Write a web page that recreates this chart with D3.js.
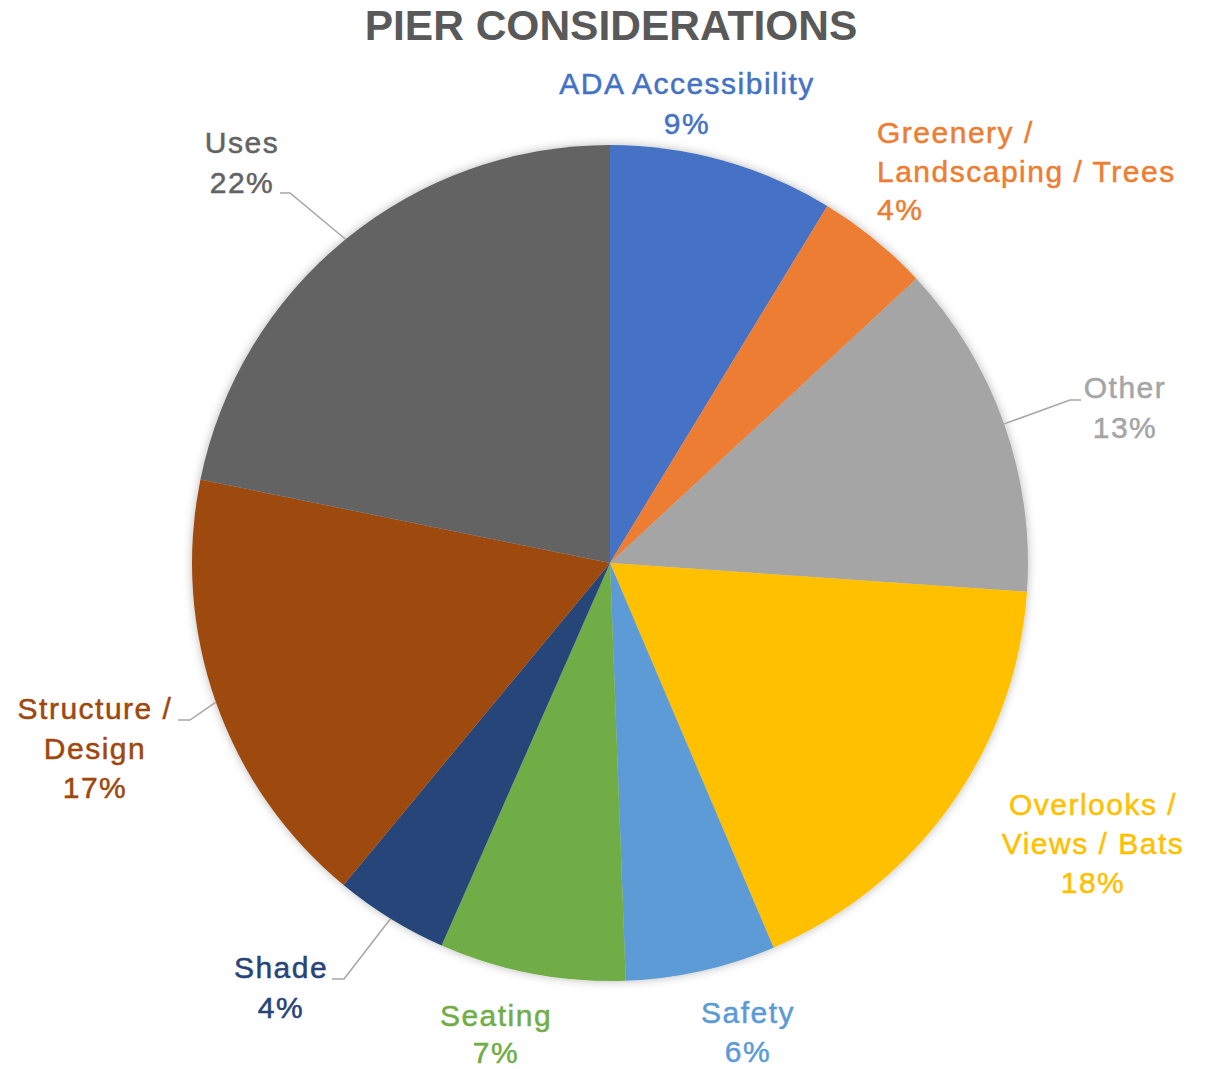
<!DOCTYPE html>
<html><head><meta charset="utf-8">
<script src="https://cdn.jsdelivr.net/npm/d3@7/dist/d3.min.js"></script>
<style>html,body{margin:0;padding:0;background:#fff;}svg{display:block;font-family:"Liberation Sans",Arial,sans-serif;}</style>
</head><body>
<svg id="chart" width="1209" height="1069"></svg>
<script>
const categories = ["ADA Accessibility","Greenery / Landscaping / Trees","Other","Overlooks / Views / Bats","Safety","Seating","Shade","Structure / Design","Uses"];
const values = [8.7, 4.4, 13.0, 17.5, 5.8, 7.2, 4.4, 17.2, 21.8];
const percentLabels = ["9%","4%","13%","18%","6%","7%","4%","17%","22%"];
const colors = ["#4472C4","#ED7D31","#A5A5A5","#FFC000","#5B9BD5","#70AD47","#264478","#9E480E","#636363"];
const title = "PIER CONSIDERATIONS";

// label layout (text lines, anchor, x, first baseline, line spacing, leader line)
const labelLayout = [
  {lines:["ADA Accessibility"], anchor:"middle", x:687, y:94, lh:39.5},
  {lines:["Greenery /","Landscaping / Trees"], anchor:"start", x:877, y:143, lh:38.5},
  {lines:["Other"], anchor:"middle", x:1125, y:398, lh:40, leader:[[1070,400],[1081,400]]},
  {lines:["Overlooks /","Views / Bats"], anchor:"middle", x:1093, y:815, lh:39},
  {lines:["Safety"], anchor:"middle", x:748, y:1023, lh:39},
  {lines:["Seating"], anchor:"middle", x:496, y:1026, lh:37},
  {lines:["Shade"], anchor:"middle", x:281, y:978, lh:40, leader:[[344,979],[332,979]]},
  {lines:["Structure /","Design"], anchor:"middle", x:95, y:719, lh:39.5, leader:[[190,720],[178,720]]},
  {lines:["Uses"], anchor:"middle", x:242, y:153, lh:40, leader:[[290,193],[280,193]]}
];

const svg = d3.select("#chart");
const cx = 610, cy = 563, R = 418;

const defs = svg.append("defs");
const f = defs.append("filter").attr("id","shadow").attr("x","-10%").attr("y","-10%").attr("width","120%").attr("height","120%");
f.append("feDropShadow").attr("dx",0).attr("dy",0).attr("stdDeviation",5).attr("flood-color","#000").attr("flood-opacity",0.28);

svg.append("text").attr("x",611).attr("y",40).attr("text-anchor","middle")
  .attr("font-size",42.5).attr("font-weight","bold").attr("fill","#595959").text(title);

const pie = d3.pie().sort(null).value(d=>d)(values);
const arc = d3.arc().innerRadius(0).outerRadius(R);
const edge = d3.arc().innerRadius(R).outerRadius(R);

const g = svg.append("g").attr("transform",`translate(${cx},${cy})`);
g.append("g").attr("filter","url(#shadow)").selectAll("path").data(pie).join("path")
  .attr("d",arc).attr("fill",(d,i)=>colors[i]);

// leader lines
pie.forEach((d,i)=>{
  const L = labelLayout[i];
  if(!L.leader) return;
  const p = edge.centroid(d);
  const pts = [[p[0]+cx,p[1]+cy]].concat(L.leader);
  svg.append("path").attr("d", d3.line()(pts)).attr("fill","none")
    .attr("stroke","#A6A6A6").attr("stroke-width",1.5);
});

// labels
labelLayout.forEach((L,i)=>{
  const t = svg.append("text").attr("text-anchor",L.anchor).attr("font-size",30)
    .attr("letter-spacing","1.5px").attr("fill",colors[i])
    .attr("stroke",colors[i]).attr("stroke-width",0.5);
  const lines = L.lines.concat([percentLabels[i]]);
  lines.forEach((s,j)=>{
    t.append("tspan").attr("x",L.x).attr("y",L.y + j*L.lh).text(s);
  });
});
</script>
</body></html>
